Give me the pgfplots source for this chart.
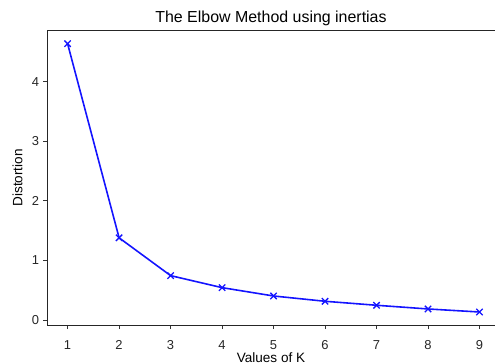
\documentclass[border=0pt]{standalone}
\usepackage{fontspec}
\setmainfont{Liberation Sans}
\usepackage{pgfplots}
\pgfplotsset{compat=1.18}
\begin{document}
\begin{tikzpicture}
\begin{axis}[
  at={(0,0)}, anchor=south west,
  scale only axis,
  width=448bp, height=295.7bp,
  xmin=0.6, xmax=9.3,
  ymin=-0.096, ymax=4.87,
  xtick={1,2,3,4,5,6,7,8,9},
  ytick={0,1,2,3,4},
  xtick pos=lower, ytick pos=left,
  tick align=outside,
  major tick length=3.5bp,
  tick style={black!80, line width=0.8pt},
  axis line style={draw=none},
  /pgf/number format/assume math mode=true,
  ticklabel style={font=\fontsize{13}{15}\selectfont, text=black!85},
  xticklabel style={anchor=center, yshift=-15.5bp},
  yticklabel style={anchor=east, xshift=-1bp},
  title={The Elbow Method using inertias},
  title style={at={(axis description cs:0.5,1)}, anchor=center, yshift=6bp, font=\fontsize{16}{18}\selectfont},
  xlabel={Values of K},
  xlabel style={at={(axis description cs:0.5,0)}, anchor=center, yshift=-31.5bp, font=\fontsize{13.6}{15}\selectfont},
  ylabel={Distortion},
  ylabel style={at={(axis description cs:0,0.5)}, anchor=center, yshift=29.5bp, font=\fontsize{13.6}{15}\selectfont},
  clip=false,
]
\addplot[color={rgb,255:red,20;green,20;blue,255}, line width=1.6pt, mark=x, mark size=4.5bp, mark options={line width=1.3pt}]
coordinates {(1,4.64) (2,1.38) (3,0.745) (4,0.543) (5,0.403) (6,0.314) (7,0.247) (8,0.185) (9,0.134)};
\draw[black!85, line width=0.8pt] (rel axis cs:1,1) -- (rel axis cs:0,1) -- (rel axis cs:0,0) -- (rel axis cs:1,0);
\end{axis}
\pgfresetboundingbox
\path[use as bounding box] (-47bp,-38.3bp) rectangle (448bp,325.7bp);
\end{tikzpicture}
\end{document}
